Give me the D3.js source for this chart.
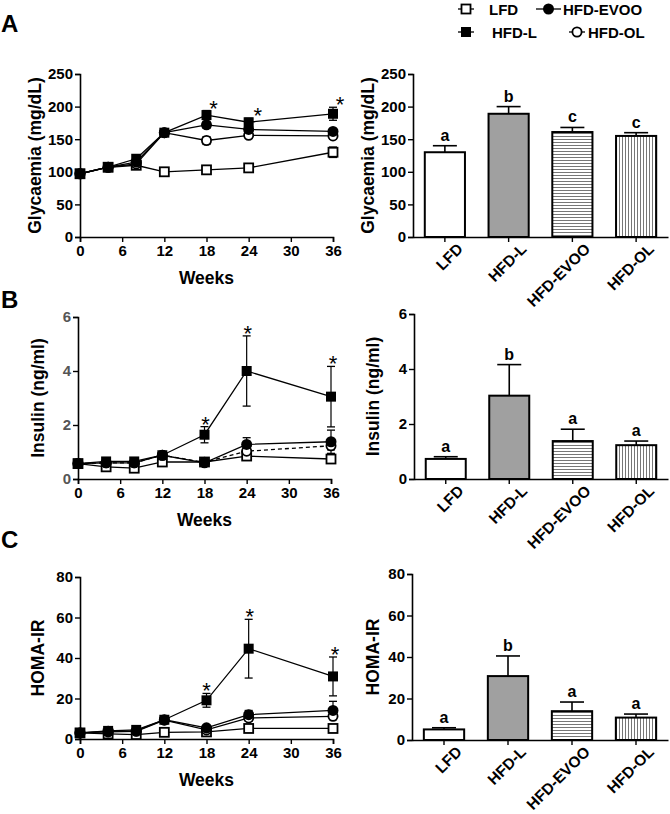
<!DOCTYPE html>
<html><head><meta charset="utf-8">
<script src="https://cdn.jsdelivr.net/npm/d3@7"></script>
<style>
body{margin:0;background:#fff;}
text{font-family:"Liberation Sans",Arial,sans-serif;font-weight:bold;}
text.star{font-weight:normal;}
</style></head>
<body>
<svg id="c" width="670" height="814"></svg>
<script>
// ---------- DATA ----------
const weeks = [0, 4, 8, 12, 18, 24, 36];
const weekTicks = [0, 6, 12, 18, 24, 30, 36];
const groups = ["LFD", "HFD-L", "HFD-EVOO", "HFD-OL"];

// Glycaemia (mg/dL) time course
const glyLFD  = [97, 107, 110, 100, 103, 106, 130];
const glyHFDL = [97, 107, 120, 160, 187, 176, 189];
const glyEVOO = [97, 107, 115, 160, 172, 165, 162];
const glyOL   = [97, 107, 112, 160, 148, 156, 155];
const glyErrLFD  = [3, 3, 3, 3, 3, 3, 8];
const glyErrHFDL = [3, 3, 3, 3, 7, 6, 10];
const glyErrEVOO = [3, 3, 3, 3, 5, 4, 4];
const glyErrOL   = [3, 3, 3, 3, 6, 4, 5];
const glyTicks = [0, 50, 100, 150, 200, 250];

// Insulin (ng/ml) time course
const insLFD  = [0.57, 0.45, 0.40, 0.63, 0.63, 0.85, 0.74];
const insHFDL = [0.57, 0.65, 0.65, 0.88, 1.64, 4.00, 3.05];
const insEVOO = [0.57, 0.60, 0.60, 0.88, 0.60, 1.28, 1.38];
const insOL   = [0.57, 0.60, 0.60, 0.88, 0.62, 1.03, 1.23];
const insErrLFD  = [0.05, 0.05, 0.05, 0.05, 0.05, 0.06, 0.06];
const insErrHFDL = [0.05, 0.05, 0.05, 0.06, 0.30, 1.30, 1.12];
const insErrEVOO = [0.05, 0.05, 0.05, 0.06, 0.05, 0.25, 0.43];
const insErrOL   = [0.05, 0.05, 0.05, 0.06, 0.05, 0.15, 0.15];
const insTicks = [0, 2, 4, 6];

// HOMA-IR time course
const homaLFD  = [3.0, 2.5, 2.2, 3.3, 3.5, 5.2, 5.2];
const homaHFDL = [3.0, 4.0, 4.5, 9.5, 19.1, 44.6, 30.9];
const homaEVOO = [3.0, 3.8, 4.0, 9.5, 5.5, 12.0, 14.1];
const homaOL   = [3.0, 3.5, 3.8, 9.3, 4.5, 10.4, 11.2];
const homaErrLFD  = [0.5, 0.5, 0.5, 0.5, 0.5, 0.6, 0.6];
const homaErrHFDL = [0.5, 0.5, 0.5, 0.8, 3.4, 14.5, 9.6];
const homaErrEVOO = [0.5, 0.5, 0.5, 0.8, 1.0, 2.1, 4.5];
const homaErrOL   = [0.5, 0.5, 0.5, 0.8, 1.0, 1.5, 1.5];
const homaTicks = [0, 20, 40, 60, 80];

// Significance asterisks (weeks)
const starWeeks = [18, 24, 36];

// Week-36 bar values
const glyBar = [130, 189, 161, 155];
const glyBarErr = [10, 11, 7, 5];
const glyLetters = ["a", "b", "c", "c"];
const insBar = [0.73, 3.03, 1.38, 1.23];
const insBarErr = [0.08, 1.13, 0.43, 0.15];
const insLetters = ["a", "b", "a", "a"];
const homaBar = [5.1, 30.8, 13.9, 10.8];
const homaBarErr = [0.8, 9.7, 4.4, 1.7];
const homaLetters = ["a", "b", "a", "a"];

// ---------- DRAW ----------
const svg = d3.select("#c");
const defs = svg.append("defs");
const ph = defs.append("pattern").attr("id", "hstripe").attr("patternUnits", "userSpaceOnUse")
  .attr("width", 6).attr("height", 3);
ph.append("rect").attr("width", 6).attr("height", 3).attr("fill", "#fff");
ph.append("line").attr("x1", 0).attr("x2", 6).attr("y1", 1.5).attr("y2", 1.5).attr("stroke", "#777").attr("stroke-width", 1);
const pv = defs.append("pattern").attr("id", "vstripe").attr("patternUnits", "userSpaceOnUse")
  .attr("width", 3).attr("height", 6);
pv.append("rect").attr("width", 3).attr("height", 6).attr("fill", "#fff");
pv.append("line").attr("y1", 0).attr("y2", 6).attr("x1", 1.5).attr("x2", 1.5).attr("stroke", "#777").attr("stroke-width", 1);

const barFills = ["#fff", "#a0a0a0", "url(#hstripe)", "url(#vstripe)"];

function marker(g, type, x, y) {
  if (type === "LFD") {
    g.append("rect").attr("x", x - 4.5).attr("y", y - 4.5).attr("width", 9).attr("height", 9)
      .attr("fill", "#fff").attr("stroke", "#000").attr("stroke-width", 1.8);
  } else if (type === "HFD-L") {
    g.append("rect").attr("x", x - 5).attr("y", y - 5).attr("width", 10).attr("height", 10).attr("fill", "#000");
  } else if (type === "HFD-EVOO") {
    g.append("circle").attr("cx", x).attr("cy", y).attr("r", 5.5).attr("fill", "#000");
  } else {
    g.append("circle").attr("cx", x).attr("cy", y).attr("r", 4.6)
      .attr("fill", "#fff").attr("stroke", "#000").attr("stroke-width", 1.8);
  }
}

function styleAxis(g, color) {
  g.select(".domain").attr("stroke", color || "#000").attr("stroke-width", 1.6);
  g.selectAll(".tick line").attr("stroke", color || "#000").attr("stroke-width", 1.4);
  g.selectAll(".tick text").attr("font-family", "Liberation Sans, Arial, sans-serif")
    .attr("font-weight", "bold").attr("font-size", 15).attr("fill", "#000");
}

function linePanel(opt) {
  const x = d3.scaleLinear().domain([0, 36]).range([opt.x0, opt.x1]);
  const y = d3.scaleLinear().domain(opt.domain).range([opt.y0, opt.y1]);
  const g = svg.append("g");
  const ya = g.append("g").attr("transform", `translate(${opt.x0},0)`)
    .call(d3.axisLeft(y).tickValues(opt.ticks).tickSize(5).tickPadding(2).tickFormat(d3.format("d")));
  styleAxis(ya);
  if (opt.greyY) ya.selectAll(".tick text").attr("fill", "#555");
  const xa = g.append("g").attr("transform", `translate(0,${opt.y0})`)
    .call(d3.axisBottom(x).tickValues(weekTicks).tickSize(5).tickPadding(3).tickFormat(d3.format("d")));
  styleAxis(xa);
  g.append("text").attr("x", (opt.x0 + opt.x1) / 2).attr("y", opt.y0 + 47)
    .attr("text-anchor", "middle").attr("font-size", 17.5).text("Weeks");
  g.append("text").attr("transform", `translate(${opt.labX},${(opt.y0 + opt.y1) / 2}) rotate(-90)`)
    .attr("text-anchor", "middle").attr("font-size", 17.5).text(opt.label);

  const line = d3.line().x((d, i) => x(weeks[i])).y(d => y(d));
  const order = [0, 3, 2, 1];
  order.forEach(k => {
    g.append("path").datum(opt.series[k]).attr("d", line).attr("fill", "none")
      .attr("stroke", "#000").attr("stroke-width", 1.3)
      .attr("stroke-dasharray", (opt.dashOL && k === 3) ? "4,3" : null);
  });
  order.forEach(k => {
    opt.series[k].forEach((v, i) => {
      const e = opt.errs[k][i];
      const xx = x(weeks[i]);
      g.append("line").attr("x1", xx).attr("x2", xx).attr("y1", y(v - e)).attr("y2", y(v + e))
        .attr("stroke", "#000").attr("stroke-width", 1.2);
      [v - e, v + e].forEach(t => g.append("line").attr("x1", xx - 4).attr("x2", xx + 4)
        .attr("y1", y(t)).attr("y2", y(t)).attr("stroke", "#000").attr("stroke-width", 1.3));
    });
  });
  [0, 3, 1, 2].forEach(k => {
    opt.series[k].forEach((v, i) => marker(g, groups[k], x(weeks[i]), y(v)));
  });
  starWeeks.forEach((w, j) => {
    const i = weeks.indexOf(w);
    const top = y(opt.series[1][i] + opt.errs[1][i]);
    g.append("text").attr("class", "star").attr("x", x(w) + opt.starDx[j]).attr("y", top + 5)
      .attr("text-anchor", "middle").attr("font-size", 22).text("*");
  });
}

function barPanel(opt) {
  const x = d3.scaleBand().domain(groups).range([opt.x0, opt.x1]).paddingInner(0.37).paddingOuter(0.185);
  const y = d3.scaleLinear().domain(opt.domain).range([opt.y0, opt.y1]);
  const g = svg.append("g");
  opt.values.forEach((v, i) => {
    const cx = x(groups[i]) + x.bandwidth() / 2;
    const top = y(v + opt.errs[i]);
    g.append("line").attr("x1", cx).attr("x2", cx).attr("y1", y(v)).attr("y2", top)
      .attr("stroke", "#000").attr("stroke-width", 1.6);
    g.append("line").attr("x1", cx - 12).attr("x2", cx + 12).attr("y1", top).attr("y2", top)
      .attr("stroke", "#000").attr("stroke-width", 1.6);
    g.append("rect").attr("x", x(groups[i])).attr("y", y(v)).attr("width", x.bandwidth())
      .attr("height", y(0) - y(v)).attr("fill", barFills[i]).attr("stroke", "#000").attr("stroke-width", 2);
    g.append("text").attr("x", cx).attr("y", top - 5).attr("text-anchor", "middle")
      .attr("font-size", 16).text(opt.letters[i]);
  });
  const ya = g.append("g").attr("transform", `translate(${opt.x0},0)`)
    .call(d3.axisLeft(y).tickValues(opt.ticks).tickSize(5).tickPadding(2).tickFormat(d3.format("d")));
  styleAxis(ya);
  const xa = g.append("g").attr("transform", `translate(0,${opt.y0})`)
    .call(d3.axisBottom(x).tickSize(5).tickSizeOuter(0).tickPadding(4));
  styleAxis(xa);
  xa.selectAll(".tick text").attr("text-anchor", "end").attr("font-size", 15.5)
    .attr("transform", "translate(6,0) rotate(-45)").attr("dy", "0.6em");
  g.append("text").attr("transform", `translate(${opt.labX},${(opt.y0 + opt.y1) / 2}) rotate(-90)`)
    .attr("text-anchor", "middle").attr("font-size", 17.5).text(opt.label);
}

// Panel A
linePanel({x0: 80, x1: 333, y0: 237, y1: 74, domain: [0, 250], ticks: glyTicks, labX: 41,
  label: "Glycaemia (mg/dL)", series: [glyLFD, glyHFDL, glyEVOO, glyOL],
  errs: [glyErrLFD, glyErrHFDL, glyErrEVOO, glyErrOL], starDx: [7, 9, 7]});
barPanel({x0: 413, x1: 668, y0: 237, y1: 74, domain: [0, 250], ticks: glyTicks, labX: 374,
  label: "Glycaemia (mg/dL)", values: glyBar, errs: glyBarErr, letters: glyLetters});

// Panel B
linePanel({x0: 78, x1: 331, y0: 479, y1: 317, domain: [0, 6], ticks: insTicks, labX: 44,
  label: "Insulin (ng/ml)", series: [insLFD, insHFDL, insEVOO, insOL],
  errs: [insErrLFD, insErrHFDL, insErrEVOO, insErrOL], starDx: [1, 1, 2], dashOL: true, greyY: true});
barPanel({x0: 414, x1: 668, y0: 479, y1: 314, domain: [0, 6], ticks: insTicks, labX: 379,
  label: "Insulin (ng/ml)", values: insBar, errs: insBarErr, letters: insLetters});

// Panel C
linePanel({x0: 80, x1: 333, y0: 739, y1: 577, domain: [0, 80], ticks: homaTicks, labX: 44,
  label: "HOMA-IR", series: [homaLFD, homaHFDL, homaEVOO, homaOL],
  errs: [homaErrLFD, homaErrHFDL, homaErrEVOO, homaErrOL], starDx: [0, 1, 2]});
barPanel({x0: 412, x1: 668, y0: 740, y1: 574, domain: [0, 80], ticks: homaTicks, labX: 379,
  label: "HOMA-IR", values: homaBar, errs: homaBarErr, letters: homaLetters});

// Panel letters
[["A", 32], ["B", 308], ["C", 548]].forEach(([t, yy]) =>
  svg.append("text").attr("x", 1).attr("y", yy).attr("font-size", 24).text(t));

// Legend
const legend = [
  {g: "LFD", lx: 458, y: 9, tx: 489},
  {g: "HFD-EVOO", lx: 536, y: 9, tx: 563},
  {g: "HFD-L", lx: 458, y: 32, tx: 492},
  {g: "HFD-OL", lx: 569, y: 32, tx: 588}
];
const lg = svg.append("g");
legend.forEach(d => {
  const w = d.g === "HFD-EVOO" ? 25 : 16;
  lg.append("line").attr("x1", d.lx).attr("x2", d.lx + w).attr("y1", d.y).attr("y2", d.y)
    .attr("stroke", "#000").attr("stroke-width", 1.3);
  marker(lg, d.g, d.lx + w / 2, d.y);
  lg.append("text").attr("x", d.tx).attr("y", d.y + 5.5).attr("font-size", 15).text(d.g);
});
</script>
</body></html>
